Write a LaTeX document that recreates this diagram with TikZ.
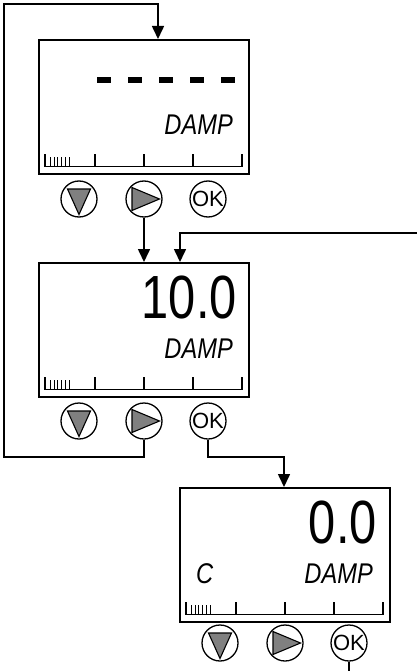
\documentclass[tikz,border=0pt]{standalone}
\usepackage{fontspec}
\setmainfont{Liberation Sans}
\newfontfamily\lcdfont[FakeStretch=0.8]{Liberation Sans}
\newfontfamily\lbfont[FakeStretch=0.83]{Liberation Sans}
\usetikzlibrary{arrows.meta,calc}
\begin{document}
\begin{tikzpicture}[x=1pt,y=-1pt,
  lcd/.style={draw,line width=1.7pt,rectangle,minimum width=210pt,minimum height=134pt,anchor=north west,inner sep=0pt},
  btn/.style={draw,circle,line width=1.3pt,minimum size=36pt,inner sep=0pt},
  conn/.style={line width=1.6pt},
  arr/.style={conn,-{Triangle[length=13pt,width=12pt]}},
  big/.style={inner sep=0pt,anchor=base east,font=\lcdfont\fontsize{61}{61}\selectfont},
  lbl/.style={inner sep=0pt,font=\lbfont\itshape\fontsize{28.5}{28.5}\selectfont},
  oktxt/.style={inner sep=0pt,font=\fontsize{22}{22}\selectfont},
  tri/.style={draw=black,fill=gray,line width=1.1pt,line join=miter},
  lcdscale/.pic={
    \draw[line width=1.3pt] (7,-8) -- (204,-8);
    \foreach \t in {7,57,106,155,204} \draw[line width=1.3pt] (\t,-8) -- (\t,-21);
    \foreach \k in {0,...,5} \draw[line width=1pt] ({12.5+3.7*\k},-8) -- ({12.5+3.7*\k},-18);
  },
  downtri/.pic={\draw[tri] (-11.5,-10) -- (11.5,-10) -- (0,15.5) -- cycle;},
  righttri/.pic={\draw[tri] (-12,-11.5) -- (-12,11.5) -- (15.5,0) -- cycle;}
]
\useasboundingbox (0,0) rectangle (417,671);

% ---------- panel 1 ----------
\node[lcd] (box1) at (38,39) {};
\foreach \s in {97,128,159,190,221} \fill (\s,77) rectangle (\s+14,83.5);
\node[lbl,anchor=base east] (damp1) at (233,135) {DAMP};
\pic at (box1.south west) {lcdscale};
\node[btn] (b1d) at (79,199) {};
\node[btn] (b1r) at (144,199) {};
\node[btn] (b1ok) at (208,199) {};
\node[oktxt] (ok1) at (b1ok) {OK};
\pic at (b1d) {downtri};
\pic at (b1r) {righttri};

% ---------- panel 2 ----------
\node[lcd] (box2) at (38,262) {};
\node[big] (val2) at (237,318) {10.0};
\node[lbl,anchor=base east] (damp2) at (233,358) {DAMP};
\pic at (box2.south west) {lcdscale};
\node[btn] (b2d) at (79,421) {};
\node[btn] (b2r) at (144,421) {};
\node[btn] (b2ok) at (208,421) {};
\node[oktxt] (ok2) at (b2ok) {OK};
\pic at (b2d) {downtri};
\pic at (b2r) {righttri};

% ---------- panel 3 ----------
\node[lcd] (box3) at (179,487) {};
\node[big] (val3) at (377,543) {0.0};
\node[lbl,anchor=base east] (damp3) at (373,583) {DAMP};
\node[lbl,anchor=base west] (c3) at (196,583) {C};
\pic at (box3.south west) {lcdscale};
\node[btn] (b3d) at (220,643) {};
\node[btn] (b3r) at (285,643) {};
\node[btn] (b3ok) at (349,643) {};
\node[oktxt] (ok3) at (b3ok) {OK};
\pic at (b3d) {downtri};
\pic at (b3r) {righttri};

% ---------- connectors ----------
\coordinate (loopB) at (4,457);
\coordinate (loopT) at (4,4);
\coordinate (in1) at (158,39);
\draw[arr] (b2r.south) |- (loopB) -- (loopT) -| (in1);

\draw[arr] (b1r.south) -- (b1r.south |- box2.north);

\coordinate (ext) at (417,233);
\coordinate (in2) at (180,262);
\draw[arr] (ext) -| (in2);

\coordinate (j3) at (284,457);
\coordinate (in3) at (284,487);
\draw[arr] (b2ok.south) |- (j3) -- (in3);

\coordinate (out3) at (349,671);
\draw[conn] (b3ok.south) -- (out3);
\end{tikzpicture}
\end{document}
